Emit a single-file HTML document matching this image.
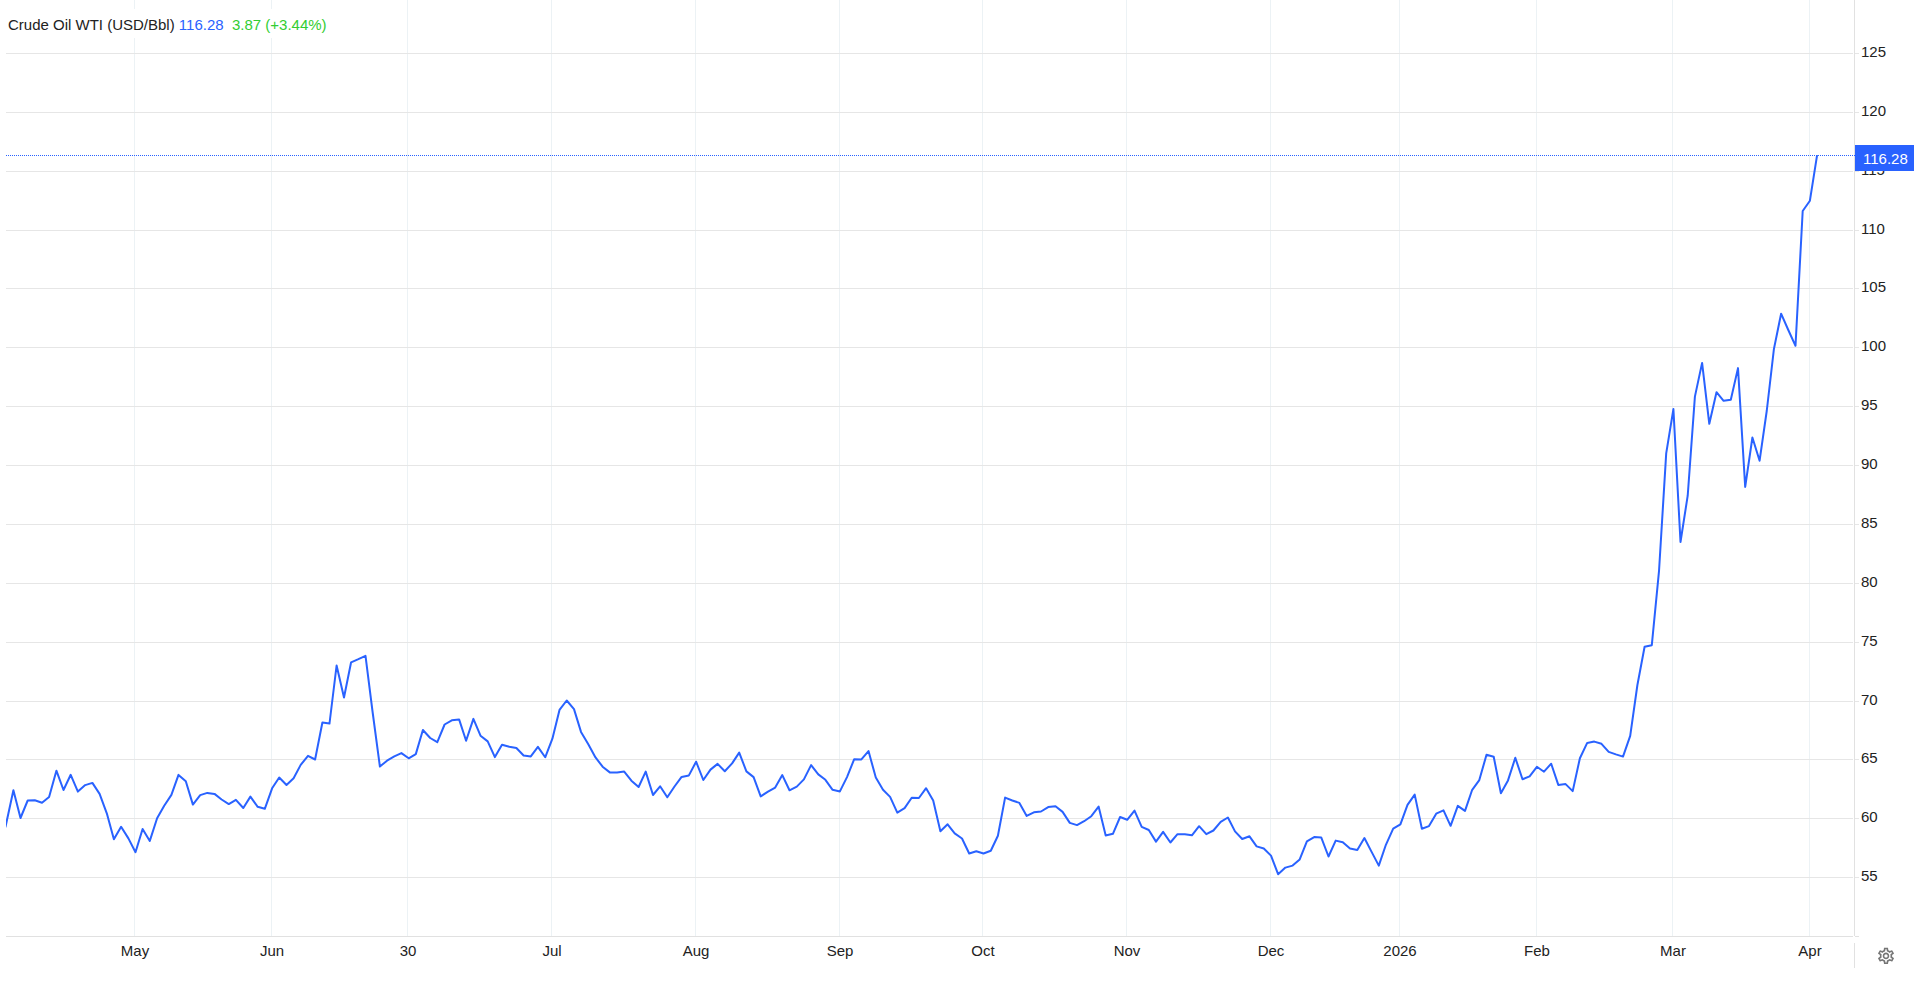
<!DOCTYPE html><html><head><meta charset="utf-8"><title>Crude Oil WTI</title><style>
html,body{margin:0;padding:0;background:#fff}
body{width:1914px;height:989px;position:relative;overflow:hidden;font-family:"Liberation Sans",sans-serif;font-size:15px;color:#222}
#c{position:absolute;left:0;top:0}
.t{position:absolute;white-space:pre;line-height:17px;height:17px}
.p{left:1861px}
.x{width:80px;text-align:center}
#ttl{left:6px;top:9px;height:29px;line-height:31px;background:#fff;padding:0 4px 0 2px}
#lbl{left:1855px;top:145px;width:59px;height:26px;background:#2962ff;color:#fff;line-height:26px}
#lbl span{position:absolute;left:8px;top:1px}

</style></head><body>
<svg id="c" width="1914" height="989" viewBox="0 0 1914 989">
<path d="M134.5 0V936M271.5 0V936M407.5 0V936M551.5 0V936M695.5 0V936M839.5 0V936M982.5 0V936M1126.5 0V936M1270.5 0V936M1399.5 0V936M1536.5 0V936M1672.5 0V936M1809.5 0V936" stroke="#ecf2f5" stroke-width="1" fill="none" shape-rendering="crispEdges"/>
<path d="M6 53.5H1853M6 112.5H1853M6 171.5H1853M6 230.5H1853M6 288.5H1853M6 347.5H1853M6 406.5H1853M6 465.5H1853M6 524.5H1853M6 583.5H1853M6 642.5H1853M6 701.5H1853M6 759.5H1853M6 818.5H1853M6 877.5H1853" stroke="#e6e6e6" stroke-width="1" fill="none" shape-rendering="crispEdges"/>
<path d="M1855 53.5H1859M1855 112.5H1859M1855 171.5H1859M1855 230.5H1859M1855 288.5H1859M1855 347.5H1859M1855 406.5H1859M1855 465.5H1859M1855 524.5H1859M1855 583.5H1859M1855 642.5H1859M1855 701.5H1859M1855 759.5H1859M1855 818.5H1859M1855 877.5H1859" stroke="#e6e6e6" stroke-width="1" fill="none" shape-rendering="crispEdges"/>
<path d="M6 936.5H1853M1855 936.5H1859M1854.5 0V936M1854.5 943V968" stroke="#e1e1e1" stroke-width="1" fill="none" shape-rendering="crispEdges"/>
<path d="M6 155.5H1856" stroke="#2962ff" stroke-width="1" stroke-dasharray="1 1" fill="none" shape-rendering="crispEdges"/>
<clipPath id="cp"><rect x="6" y="0" width="1848" height="936"/></clipPath>
<polyline clip-path="url(#cp)" points="5.4,827.3 13.4,790.3 20.5,818.0 27.7,800.5 34.8,800.2 42.0,802.7 49.1,797.0 56.4,770.7 63.5,790.0 70.7,774.8 77.9,791.6 85.2,785.1 92.4,782.9 99.6,793.9 106.8,813.3 113.9,839.3 121.1,826.8 128.4,838.4 135.5,852.2 142.6,829.0 149.8,840.9 157.1,818.3 164.2,805.8 171.4,794.9 178.5,774.9 185.8,781.3 192.9,804.6 200.2,795.1 207.3,792.9 214.5,793.9 221.6,799.5 228.8,804.1 235.9,799.9 243.3,808.0 250.4,796.6 257.7,806.8 264.8,808.8 272.1,788.3 279.2,777.5 286.5,785.0 293.6,778.3 300.7,764.9 308.0,755.8 315.1,759.5 322.4,722.5 329.5,723.5 336.6,665.5 344.0,697.5 351.1,662.3 358.4,659.2 365.5,655.9 372.6,712.0 379.9,766.6 387.0,760.7 394.3,756.4 401.4,753.1 408.7,758.3 415.8,754.1 422.9,730.0 430.2,738.0 437.3,742.2 444.6,724.5 451.8,720.3 459.1,719.4 466.1,740.8 473.4,718.9 480.5,735.7 487.7,741.4 494.9,757.1 502.0,744.7 509.3,746.7 516.4,748.0 523.6,755.5 530.8,756.4 537.9,746.9 545.2,757.3 552.4,738.7 559.5,709.9 566.7,700.5 574.0,709.1 581.0,731.9 588.3,744.2 595.5,757.4 602.6,766.7 609.8,772.4 617.1,772.6 624.2,771.6 631.4,780.7 638.6,787.0 645.7,771.6 653.0,795.0 660.1,786.3 667.3,797.3 674.5,786.5 681.6,776.9 688.9,775.4 696.1,761.7 703.3,780.0 710.5,769.6 717.6,763.9 724.8,771.3 732.1,763.4 739.2,752.6 746.4,771.4 753.6,777.1 760.7,796.4 768.0,791.7 775.2,787.6 782.3,775.1 789.5,790.3 796.8,786.6 803.9,779.4 811.1,765.1 818.3,774.4 825.4,779.8 832.6,789.8 839.9,791.4 847.0,777.1 854.2,759.2 861.4,759.4 868.5,751.1 875.8,777.5 883.0,789.8 890.1,796.9 897.3,812.6 904.6,808.1 911.7,797.8 918.9,798.0 926.1,788.2 933.2,800.6 940.4,831.2 947.6,824.3 954.7,833.4 962.0,838.5 969.2,853.5 976.3,851.3 983.5,853.5 990.8,850.8 997.9,835.8 1005.1,797.6 1012.3,800.5 1019.4,802.9 1026.7,815.9 1033.9,812.3 1041.0,811.5 1048.2,807.1 1055.5,806.2 1062.6,811.9 1069.8,822.9 1077.0,825.1 1084.1,821.2 1091.3,816.2 1098.6,806.6 1105.7,835.4 1112.9,833.8 1120.1,817.0 1127.2,819.8 1134.5,810.6 1141.7,826.9 1148.8,830.0 1156.0,841.6 1163.1,831.9 1170.4,842.5 1177.5,834.2 1184.8,834.2 1191.9,835.3 1199.1,826.2 1206.3,834.2 1213.4,830.5 1220.7,821.9 1227.9,817.5 1235.0,831.4 1242.2,839.0 1249.5,836.3 1256.6,846.4 1263.8,848.5 1271.0,855.6 1278.1,874.2 1285.4,867.6 1292.6,865.6 1299.7,859.4 1306.9,841.4 1314.2,837.1 1321.2,837.4 1328.5,856.5 1335.7,840.6 1342.8,842.3 1350.0,848.6 1357.3,849.9 1364.4,838.0 1371.6,851.9 1378.8,865.6 1385.9,844.8 1393.2,828.7 1400.4,824.3 1407.5,804.8 1414.7,794.6 1421.9,828.7 1429.0,826.1 1436.2,813.7 1443.5,810.4 1450.6,825.8 1457.8,805.9 1465.0,810.9 1472.2,789.8 1479.3,780.1 1486.5,754.8 1493.7,756.7 1500.9,793.2 1508.0,780.4 1515.3,757.8 1522.5,779.3 1529.6,776.4 1536.9,766.8 1544.0,771.7 1551.2,763.7 1558.3,784.9 1565.6,784.1 1572.7,791.1 1579.9,758.2 1587.2,742.9 1594.3,741.6 1601.5,743.8 1608.7,751.9 1615.9,754.4 1623.0,756.6 1630.2,735.8 1637.4,685.0 1644.6,646.8 1651.8,645.2 1659.0,571.2 1666.2,453.4 1673.4,409.1 1680.5,542.0 1687.7,495.7 1694.9,396.6 1702.1,362.9 1709.3,423.8 1716.5,392.2 1723.6,400.8 1730.8,399.7 1738.0,368.1 1745.2,486.9 1752.4,437.5 1759.6,460.7 1766.8,410.5 1773.9,349.1 1781.1,313.7 1788.3,330.0 1795.5,345.8 1802.7,211.0 1809.9,200.7 1817.1,155.2" fill="none" stroke="#2962ff" stroke-width="2" stroke-linejoin="round" stroke-linecap="butt"/>
<path transform="translate(1876.16,946.06) scale(0.82)" d="M19.43 12.98c.04-.32.07-.64.07-.98 0-.34-.03-.66-.07-.98l2.11-1.65c.19-.15.24-.42.12-.64l-2-3.46c-.09-.16-.26-.25-.44-.25-.06 0-.12.01-.17.03l-2.49 1c-.52-.4-1.08-.73-1.69-.98l-.38-2.65C14.46 2.18 14.25 2 14 2h-4c-.25 0-.46.18-.49.42l-.38 2.65c-.61.25-1.17.59-1.69.98l-2.49-1c-.06-.02-.12-.03-.18-.03-.17 0-.34.09-.43.25l-2 3.46c-.13.22-.07.49.12.64l2.11 1.65c-.04.32-.07.65-.07.98 0 .33.03.66.07.98l-2.11 1.65c-.19.15-.24.42-.12.64l2 3.46c.09.16.26.25.44.25.06 0 .12-.01.17-.03l2.49-1c.52.4 1.08.73 1.69.98l.38 2.65c.03.24.24.42.49.42h4c.25 0 .46-.18.49-.42l.38-2.65c.61-.25 1.17-.59 1.69-.98l2.49 1c.06.02.12.03.18.03.17 0 .34-.09.43-.25l2-3.46c.12-.22.07-.49-.12-.64l-2.11-1.65zm-1.98-1.71c.04.31.05.52.05.73 0 .21-.02.43-.05.73l-.14 1.13.89.7 1.08.84-.7 1.21-1.27-.51-1.04-.42-.9.68c-.43.32-.84.56-1.25.73l-1.06.43-.16 1.13-.2 1.35h-1.4l-.19-1.35-.16-1.13-1.06-.43c-.43-.18-.83-.41-1.23-.71l-.91-.7-1.06.43-1.27.51-.7-1.21 1.08-.84.89-.7-.14-1.13c-.03-.31-.05-.54-.05-.74s.02-.43.05-.73l.14-1.13-.89-.7-1.08-.84.7-1.21 1.27.51 1.04.42.9-.68c.43-.32.84-.56 1.25-.73l1.06-.43.16-1.13.2-1.35h1.39l.19 1.35.16 1.13 1.06.43c.43.18.83.41 1.23.71l.91.7 1.06-.43 1.27-.51.7 1.21-1.07.85-.89.7.14 1.13zM12 8c-2.21 0-4 1.79-4 4s1.79 4 4 4 4-1.79 4-4-1.79-4-4-4zm0 6c-1.1 0-2-.9-2-2s.9-2 2-2 2 .9 2 2-.9 2-2 2z" fill="#757575"/>
</svg>
<div class="t" id="ttl">Crude Oil WTI (USD/Bbl) <span style="color:#2962ff">116.28</span>  <span style="color:#32cd32">3.87 (+3.44%)</span></div>
<div class="t p" style="top:43px">125</div>
<div class="t p" style="top:102px">120</div>
<div class="t p" style="top:161px">115</div>
<div class="t p" style="top:220px">110</div>
<div class="t p" style="top:278px">105</div>
<div class="t p" style="top:337px">100</div>
<div class="t p" style="top:396px">95</div>
<div class="t p" style="top:455px">90</div>
<div class="t p" style="top:514px">85</div>
<div class="t p" style="top:573px">80</div>
<div class="t p" style="top:632px">75</div>
<div class="t p" style="top:691px">70</div>
<div class="t p" style="top:749px">65</div>
<div class="t p" style="top:808px">60</div>
<div class="t p" style="top:867px">55</div>
<div class="t x" style="left:95.0px;top:942px">May</div>
<div class="t x" style="left:232.0px;top:942px">Jun</div>
<div class="t x" style="left:368.0px;top:942px">30</div>
<div class="t x" style="left:512.0px;top:942px">Jul</div>
<div class="t x" style="left:656.0px;top:942px">Aug</div>
<div class="t x" style="left:800.0px;top:942px">Sep</div>
<div class="t x" style="left:943.0px;top:942px">Oct</div>
<div class="t x" style="left:1087.0px;top:942px">Nov</div>
<div class="t x" style="left:1231.0px;top:942px">Dec</div>
<div class="t x" style="left:1360.0px;top:942px">2026</div>
<div class="t x" style="left:1497.0px;top:942px">Feb</div>
<div class="t x" style="left:1633.0px;top:942px">Mar</div>
<div class="t x" style="left:1770.0px;top:942px">Apr</div>
<div class="t" id="lbl"><span>116.28</span></div>
</body></html>
